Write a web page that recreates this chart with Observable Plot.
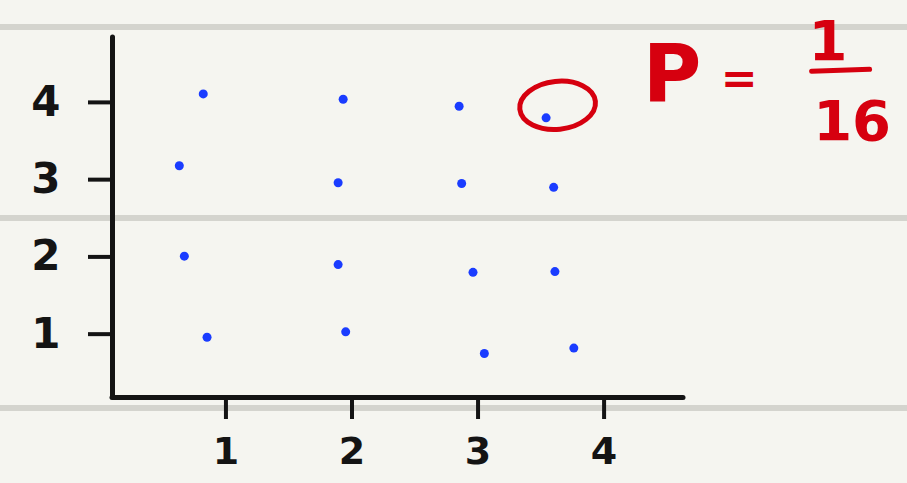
<!DOCTYPE html>
<html>
<head>
<meta charset="utf-8">
<script src="https://cdn.jsdelivr.net/npm/d3@7"></script>
<script src="https://cdn.jsdelivr.net/npm/@observablehq/plot@0.6"></script>
<style>
  html, body { margin: 0; padding: 0; }
  body {
    width: 907px; height: 483px; overflow: hidden;
    background-color: #f5f5f0;
    background-image: linear-gradient(to bottom,
      transparent 0px, transparent 24px, #d4d4ce 24px, #d4d4ce 30px, transparent 30px,
      transparent 215px, #d4d4ce 215px, #d4d4ce 221px, transparent 221px,
      transparent 405px, #d4d4ce 405px, #d4d4ce 411px, transparent 411px);
  }
  #chart svg { display: block; }
</style>
</head>
<body>
<div id="chart"></div>
<script>
// Hand-drawn points (slightly wobbly 4x4 grid)
const pointX = [0.82, 1.93, 2.85, 3.54, 0.63, 1.89, 2.87, 3.60, 0.67, 1.89, 2.96, 3.61, 0.85, 1.95, 3.05, 3.76];
const pointY = [4.11, 4.04, 3.95, 3.80, 3.18, 2.96, 2.95, 2.90, 2.01, 1.90, 1.80, 1.81, 0.96, 1.03, 0.75, 0.82];
const xTicks = [1, 2, 3, 4];
const yTicks = [1, 2, 3, 4];
const highlightIndex = 3;             // the circled outcome (4,4)
const probLabel = ["P", "=", "1", "16"];

const xDomain = [0.1, 4.63];
const yDomain = [0.18, 4.84];

const points = pointX.map((x, i) => ({x, y: pointY[i]}));
const highlight = points[highlightIndex];

const ink = "#141414";
const blue = "#1a3cff";
const red = "#d6000f";

const annot = [
  {text: probLabel[0], dx: 126, dy: -42, size: 80},
  {text: probLabel[1], dx: 193, dy: -39, size: 44},
  {text: probLabel[2], dx: 282, dy: -76, size: 56},
  {text: probLabel[3], dx: 306, dy: 4, size: 56}
];

const plot = Plot.plot({
  width: 907,
  height: 483,
  marginLeft: 112,
  marginRight: 224,
  marginTop: 37,
  marginBottom: 86,
  x: {domain: xDomain},
  y: {domain: yDomain},
  style: {background: "transparent", color: ink, fontFamily: "DejaVu Sans", overflow: "visible"},
  marks: [
    Plot.axisX({ticks: xTicks, tickFormat: d => String(d), tickSize: 22, tickPadding: 18,
      fontSize: 38, fontWeight: "bold", strokeWidth: 4, stroke: ink, label: null}),
    Plot.axisY({ticks: yTicks, tickFormat: d => String(d), tickSize: 24, tickPadding: 28,
      fontSize: 42, fontWeight: "bold", strokeWidth: 4, stroke: ink, label: null}),
    Plot.ruleX([xDomain[0]], {stroke: ink, strokeWidth: 5, strokeLinecap: "round"}),
    Plot.ruleY([yDomain[0]], {stroke: ink, strokeWidth: 5, strokeLinecap: "round"}),
    Plot.dot(points, {x: "x", y: "y", r: 4.5, fill: blue, stroke: "none"}),
    ...annot.map(a => Plot.text([highlight], {x: "x", y: "y", text: () => a.text, dx: a.dx, dy: a.dy,
      fontSize: a.size, fontWeight: "bold", fill: red}))
  ]
});

document.getElementById("chart").appendChild(plot);

// Red loop around the highlighted point and the fraction bar, placed through the plot's own scales
const sx = plot.scale("x"), sy = plot.scale("y");
const cx = sx.apply(highlight.x), cy = sy.apply(highlight.y);
const svg = d3.select(plot);
svg.append("ellipse")
  .attr("cx", cx + 12).attr("cy", cy - 12)
  .attr("rx", 38).attr("ry", 24)
  .attr("fill", "none").attr("stroke", red).attr("stroke-width", 5)
  .attr("transform", `rotate(-6 ${cx + 12} ${cy - 12})`);
svg.append("line")
  .attr("x1", cx + 266).attr("x2", cx + 324)
  .attr("y1", cy - 46).attr("y2", cy - 48)
  .attr("stroke", red).attr("stroke-width", 5).attr("stroke-linecap", "round");
</script>
</body>
</html>
